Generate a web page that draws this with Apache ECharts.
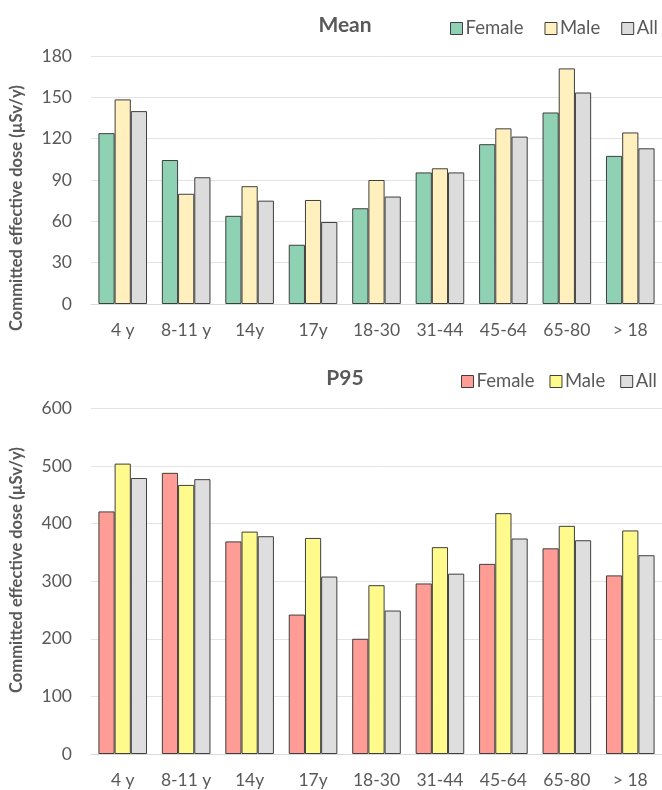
<!DOCTYPE html>
<html>
<head>
<meta charset="utf-8">
<script src="https://cdn.jsdelivr.net/npm/echarts@6/dist/echarts.min.js"></script>
<style>
html,body{margin:0;padding:0;background:#fff;}
#chart{width:662px;height:790px;}
</style>
</head>
<body>
<div id="chart"></div>
<script>
const categories = ['4 y', '8-11 y', '14y', '17y', '18-30', '31-44', '45-64', '65-80', '> 18'];
const meanFemale = [124, 104.5, 64, 43, 69.5, 95.5, 116, 139, 107.5];
const meanMale   = [148.5, 80, 85.5, 75.5, 90, 98.5, 127.5, 171, 124.5];
const meanAll    = [140, 92, 75, 59.5, 78, 95.5, 121.5, 153.5, 113];
const p95Female  = [421, 488, 369, 242, 200, 296, 330, 357, 310];
const p95Male    = [504, 467, 386, 375, 293, 359, 418, 396, 388];
const p95All     = [479, 477, 378, 308, 249, 313, 374, 371, 345];
const meanTicks  = { min: 0, max: 180, interval: 30 };
const p95Ticks   = { min: 0, max: 600, interval: 100 };

const FONT = 'Lato';
const TXT = '#595959';
const BORDER = '#3f3f3f';
const topColors = ['#8ed1b3', '#fff0bd', '#dcdcdc'];
const botColors = ['#ff9c95', '#fffa8c', '#dedede'];

function bar(name, data, color, idx) {
  return {
    type: 'bar', name: name, data: data,
    xAxisIndex: idx, yAxisIndex: idx,
    barWidth: 16.2, barGap: '0%',
    itemStyle: { color: color, borderColor: BORDER, borderWidth: 1 },
    emphasis: { disabled: true }, animation: false
  };
}

const xAxisBase = {
  type: 'category', data: categories,
  axisTick: { show: false },
  axisLine: { show: true, lineStyle: { color: '#d9d9d9', width: 1 } },
  axisLabel: { color: TXT, fontFamily: FONT, fontSize: 17.5, margin: 17, interval: 0, hideOverlap: false }
};
const yAxisBase = {
  type: 'value',
  axisLine: { show: false }, axisTick: { show: false },
  splitLine: { lineStyle: { color: '#e3e3e3', width: 1 } },
  axisLabel: { color: TXT, fontFamily: FONT, fontSize: 17.5, margin: 19 }
};

const legendItem = (name, color) => ({ name: name, itemStyle: { color: color, borderColor: BORDER, borderWidth: 1 } });
const legendBase = {
  orient: 'horizontal', icon: 'rect', itemWidth: 12, itemHeight: 12, itemGap: 22,
  selectedMode: false, width: 300,
  textStyle: { color: TXT, fontFamily: FONT, fontSize: 18.5, padding: [0, 0, 0, -2] }
};

const option = {
  backgroundColor: '#fff',
  animation: false,
  title: [
    { text: 'Mean', left: 340, top: 10, textAlign: 'center',
      textStyle: { color: TXT, fontFamily: FONT, fontSize: 21, fontWeight: 'bold' } },
    { text: 'P95', left: 340, top: 363, textAlign: 'center',
      textStyle: { color: TXT, fontFamily: FONT, fontSize: 21, fontWeight: 'bold' } }
  ],
  legend: [
    Object.assign({}, legendBase, { left: 445, top: 14, itemGap: 21,
      data: [legendItem('Female', topColors[0]), legendItem('Male', topColors[1]), legendItem('All', topColors[2])] }),
    Object.assign({}, legendBase, { left: 456, top: 367, itemGap: 15,
      data: [legendItem('Female', botColors[0]), legendItem('Male', botColors[1]), legendItem('All', botColors[2])] })
  ],
  grid: [
    { left: 91, top: 56, width: 578.7, height: 248, containLabel: false },
    { left: 91, top: 408.3, width: 572.6, height: 345.7, containLabel: false }
  ],
  xAxis: [
    Object.assign({}, xAxisBase, { gridIndex: 0 }),
    Object.assign({}, xAxisBase, { gridIndex: 1 })
  ],
  yAxis: [
    Object.assign({}, yAxisBase, meanTicks, { gridIndex: 0 }),
    Object.assign({}, yAxisBase, p95Ticks, { gridIndex: 1 })
  ],
  graphic: [
    { type: 'text', x: 17, y: 208, rotation: Math.PI / 2,
      style: { text: 'Committed effective dose (µSv/y)', fill: TXT, font: 'bold 16.5px Lato', align: 'center', verticalAlign: 'middle' } },
    { type: 'text', x: 17, y: 570, rotation: Math.PI / 2,
      style: { text: 'Committed effective dose (µSv/y)', fill: TXT, font: 'bold 16.5px Lato', align: 'center', verticalAlign: 'middle' } }
  ],
  series: [
    bar('Female', meanFemale, topColors[0], 0),
    bar('Male', meanMale, topColors[1], 0),
    bar('All', meanAll, topColors[2], 0),
    bar('Female', p95Female, botColors[0], 1),
    bar('Male', p95Male, botColors[1], 1),
    bar('All', p95All, botColors[2], 1)
  ]
};

const chart = echarts.init(document.getElementById('chart'), null, { renderer: 'canvas' });
chart.setOption(option);
</script>
</body>
</html>
